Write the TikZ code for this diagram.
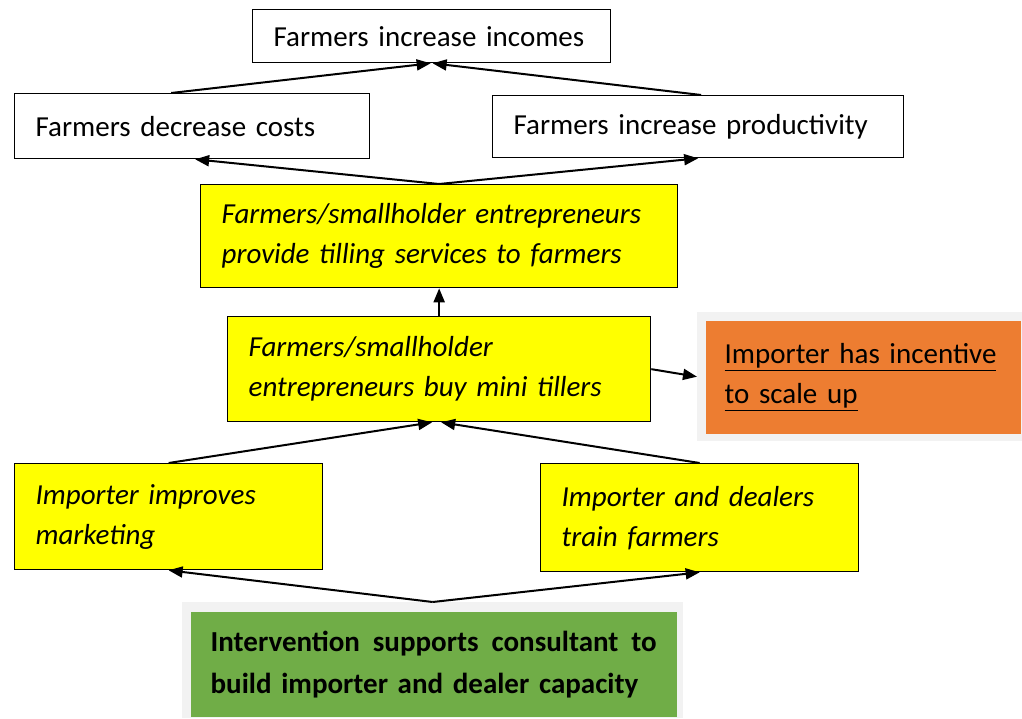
\documentclass[tikz,border=0pt]{standalone}
\usepackage{fontspec}
\setmainfont{Carlito}
\usetikzlibrary{arrows.meta}
\definecolor{TillerYellow}{HTML}{FFFF00}
\definecolor{ScaleOrange}{HTML}{ED7D31}
\definecolor{InterGreen}{HTML}{70AD47}
\definecolor{ShadeGrey}{HTML}{F2F2F2}
\tikzset{
  whitebox/.style={draw=black,line width=1.3pt,anchor=north west,inner xsep=21pt,inner ysep=0pt,align=left,font=\fontsize{29}{40}\selectfont},
  yellowbox/.style={whitebox,fill=TillerYellow,font=\fontsize{29}{40}\selectfont\itshape},
  shadebox/.style={fill=ShadeGrey,anchor=north west,inner sep=0pt},
  link/.style={line width=2pt,-{Triangle[length=14pt,width=11pt]}}
}

\begin{document}
\begin{tikzpicture}[x=1pt,y=-1pt]
     \useasboundingbox (0,0) rectangle (1022,718);

     \node[whitebox,text width=316pt,minimum height=53pt] (incomes) at (252,9) {Farmers increase incomes};
     \node[whitebox,text width=313pt,minimum height=65pt] (costs) at (14,93) {Farmers decrease costs};
     \node[whitebox,text width=369pt,minimum height=62pt] (prod) at (492,95) {Farmers increase productivity};

     \node[yellowbox,text width=435pt,minimum height=103pt] (tilling) at (200,184) {Farmers/smallholder entrepreneurs\\provide tilling services to farmers};
     \node[yellowbox,text width=381pt,minimum height=105pt] (buy) at (227,316) {Farmers/smallholder\\entrepreneurs buy mini tillers};

     \node[shadebox,minimum width=325pt,minimum height=129pt] (scalebg) at (697,312) {};
     \node[whitebox,draw=none,fill=ScaleOrange,inner xsep=19pt,text width=277pt,minimum height=113pt] (scale) at (705,320) {\underline{Importer has incentive}\\\underline{to scale up}};

     \node[yellowbox,text width=266pt,minimum height=106pt] (mkt) at (14,463) {Importer improves\\marketing};
     \node[yellowbox,text width=276pt,minimum height=108pt] (train) at (540,463) {Importer and dealers\\train farmers};

     \node[shadebox,minimum width=501pt,minimum height=116pt] (interbg) at (182,602) {};
     \node[whitebox,draw=none,fill=InterGreen,inner xsep=20pt,text width=446pt,minimum height=105pt,font=\fontsize{29}{42}\selectfont\bfseries] (inter) at (190,611) {\makebox[446pt][l]{Intervention\hfill supports\hfill consultant\hfill to}\\build importer and dealer capacity};

     % links
     \draw[link] ([xshift=-21pt]costs.north) -- ([xshift=-1pt]incomes.south);
     \draw[link] ([xshift=3pt]prod.north) -- ([xshift=1pt]incomes.south);
     \draw[link] (tilling.north) -- ([xshift=3pt]costs.south);
     \draw[link] (tilling.north) -- (prod.south);
     \draw[link] (buy.north) -- (tilling.south);
     \draw[link] (buy.east) -- (scalebg.west);
     \draw[link] (mkt.north) -- ([xshift=-7pt]buy.south);
     \draw[link] (train.north) -- ([xshift=2pt]buy.south);
     \draw[link] (interbg.north) -- (mkt.south);
     \draw[link] (interbg.north) -- (train.south);
\end{tikzpicture}
\end{document}
